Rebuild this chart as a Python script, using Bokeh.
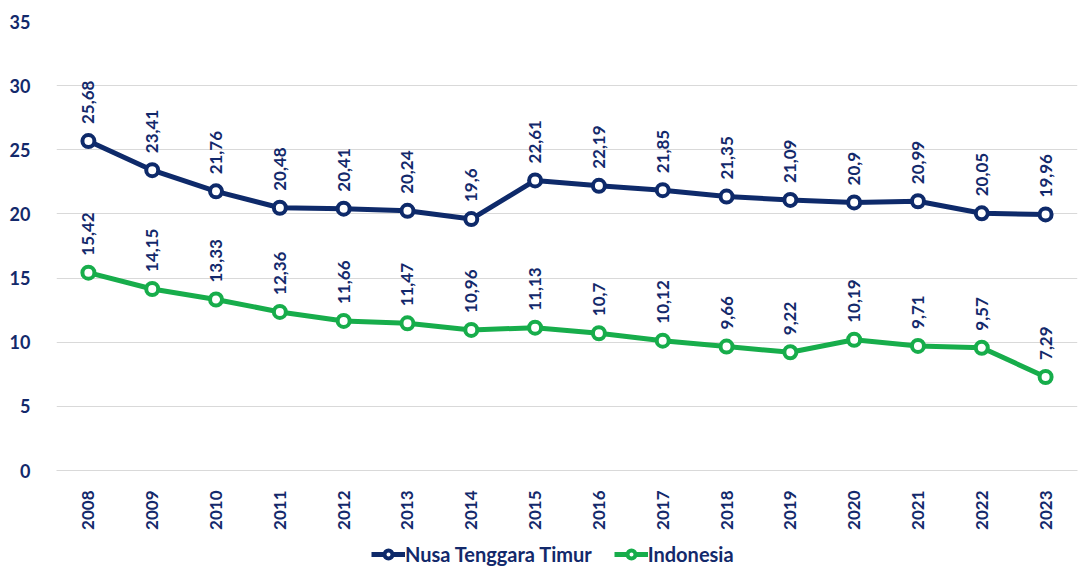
from bokeh.plotting import figure
from bokeh.models import ColumnDataSource, LabelSet, Legend, LegendItem, FixedTicker, Range1d
from bokeh.layouts import column
from bokeh.core.properties import value
from bokeh.embed import file_html
from bokeh.resources import INLINE
import math

years = ["2008", "2009", "2010", "2011", "2012", "2013", "2014", "2015",
         "2016", "2017", "2018", "2019", "2020", "2021", "2022", "2023"]
ntt = [25.68, 23.41, 21.76, 20.48, 20.41, 20.24, 19.6, 22.61, 22.19, 21.85,
       21.35, 21.09, 20.9, 20.99, 20.05, 19.96]
indo = [15.42, 14.15, 13.33, 12.36, 11.66, 11.47, 10.96, 11.13, 10.7, 10.12,
        9.66, 9.22, 10.19, 9.71, 9.57, 7.29]
y_ticks = [0, 5, 10, 15, 20, 25, 30, 35]
series_names = ["Nusa Tenggara Timur", "Indonesia"]

NAVY = "#0E2A6A"
GREEN = "#17AD4B"
TEXT = "#13296B"
FONT = "Lato"

def fmt(v):
    s = ("%.2f" % v).rstrip("0").rstrip(".")
    return s.replace(".", ",")

p = figure(x_range=years, y_range=Range1d(0, 35), width=1082, height=540,
           output_backend="svg", toolbar_location=None,
           min_border_left=56, min_border_right=5, min_border_top=21,
           min_border_bottom=70)
p.outline_line_color = None
p.background_fill_color = "white"
p.border_fill_color = "white"

p.xgrid.grid_line_color = None
p.ygrid.grid_line_color = "#D9D9D9"
p.ygrid.grid_line_width = 1
p.yaxis.ticker = FixedTicker(ticks=y_ticks)
p.yaxis.axis_line_color = None
p.yaxis.major_tick_line_color = None
p.yaxis.minor_tick_line_color = None
p.yaxis.major_label_text_font = FONT
p.yaxis.major_label_text_font_style = "bold"
p.yaxis.major_label_text_font_size = "18px"
p.yaxis.major_label_text_color = TEXT
p.yaxis.major_label_standoff = 20

p.xaxis.axis_line_color = "#D9D9D9"
p.xaxis.major_tick_line_color = None
p.xaxis.minor_tick_line_color = None
p.xaxis.major_label_orientation = math.pi / 2
p.xaxis.major_label_text_font = FONT
p.xaxis.major_label_text_font_style = "bold"
p.xaxis.major_label_text_font_size = "17px"
p.xaxis.major_label_text_color = TEXT
p.xaxis.major_label_standoff = 14

# legend strip figure
lg = figure(x_range=Range1d(0, 1), y_range=Range1d(0, 1), width=1082, height=30,
            output_backend="svg", toolbar_location=None,
            min_border_left=0, min_border_right=0, min_border_top=0,
            min_border_bottom=0)
lg.axis.visible = False
lg.grid.visible = False
lg.outline_line_color = None

items = []
for name, vals, col in [(series_names[0], ntt, NAVY), (series_names[1], indo, GREEN)]:
    src = ColumnDataSource(dict(x=years, y=vals, lab=[fmt(v) for v in vals]))
    p.line("x", "y", source=src, line_color=col, line_width=5)
    p.scatter("x", "y", source=src, size=12, fill_color="white",
              line_color=col, line_width=4)
    labels = LabelSet(x="x", y="y", text="lab", source=src, angle=math.pi / 2,
                      text_align="left", text_baseline="middle", y_offset=17,
                      text_font=value(FONT), text_font_style="bold",
                      text_font_size="17px", text_color=TEXT)
    p.add_layout(labels)
    # off-screen placeholder so the legend strip can draw the glyph swatches
    dummy = ColumnDataSource(dict(x=[-5, -4], y=[-5, -5]))
    ln = lg.line("x", "y", source=dummy, line_color=col, line_width=5)
    sc = lg.scatter("x", "y", source=dummy, size=12, fill_color="white",
                    line_color=col, line_width=4)
    items.append(LegendItem(label=name, renderers=[ln, sc]))

legend = Legend(items=items, orientation="horizontal", location=(315, 4),
                label_text_font=FONT, label_text_font_style="bold",
                label_text_font_size="20px", label_text_color=TEXT,
                border_line_color=None, background_fill_alpha=0,
                glyph_width=34, glyph_height=20, spacing=22,
                label_standoff=0, margin=0, padding=0)
lg.add_layout(legend, "center")

layout = column(p, lg, spacing=0)
open("out.html", "w").write(file_html(layout, INLINE))
